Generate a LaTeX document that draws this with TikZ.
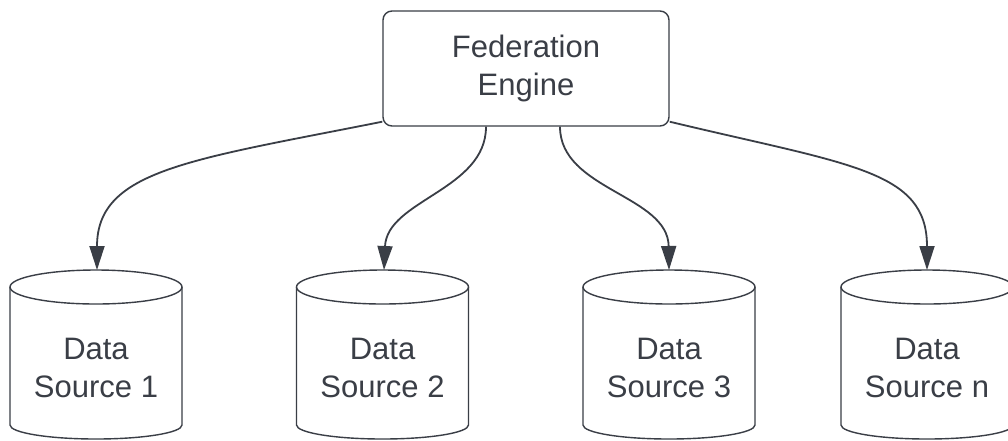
\documentclass[tikz,border=0pt]{standalone}
\usepackage{fontspec}
\setmainfont{Liberation Sans}
\usetikzlibrary{arrows.meta}
\definecolor{ink}{RGB}{58,62,70}
\newcommand\dbcyl[1]{%
  \draw[cyl] (#1-86,287) -- (#1-86,425) arc[start angle=180,end angle=360,x radius=86pt,y radius=14pt] -- (#1+86,287);
  \draw[cyl] (#1,287) ellipse [x radius=86pt, y radius=17pt];}
\begin{document}
\begin{tikzpicture}[x=1pt,y=-1pt, line join=round,
  every node/.style={font=\fontsize{31}{38}\selectfont, text=ink, align=center, inner sep=0pt},
  box/.style={draw=ink, line width=1.4pt, rounded corners=9pt, minimum width=286pt, minimum height=115pt},
  cyl/.style={draw=ink, line width=1.4pt},
  conn/.style={draw=ink, line width=1.8pt, -{Triangle[length=24pt,width=15pt]}}]
\clip (0,0) rectangle (1008,440);
\fill[white] (0,0) rectangle (1008,440);
\node[box] (fe) at (526,68.5) {Federation\\Engine};
\dbcyl{96}
\dbcyl{382.5}
\dbcyl{669}
\dbcyl{927}
\node (d1) at (96,367.5) {Data\\Source 1};
\node (d2) at (382.5,367.5) {Data\\Source 2};
\node (d3) at (669,367.5) {Data\\Source 3};
\node (d4) at (927,367.5) {Data\\Source n};
\coordinate (t1) at (97,270);
\coordinate (t2) at (384,270);
\coordinate (t3) at (669,270);
\coordinate (t4) at (927,270);
\draw[conn] ([yshift=5pt]fe.south west) .. controls (190,160) and (97,170) .. (t1);
\draw[conn] ([xshift=-40pt]fe.south) .. controls (486,190) and (387,200) .. (t2);
\draw[conn] ([xshift=34pt]fe.south) .. controls (560,190) and (668,195) .. (t3);
\draw[conn] ([yshift=5pt]fe.south east) .. controls (850,165) and (927,170) .. (t4);
\end{tikzpicture}
\end{document}
